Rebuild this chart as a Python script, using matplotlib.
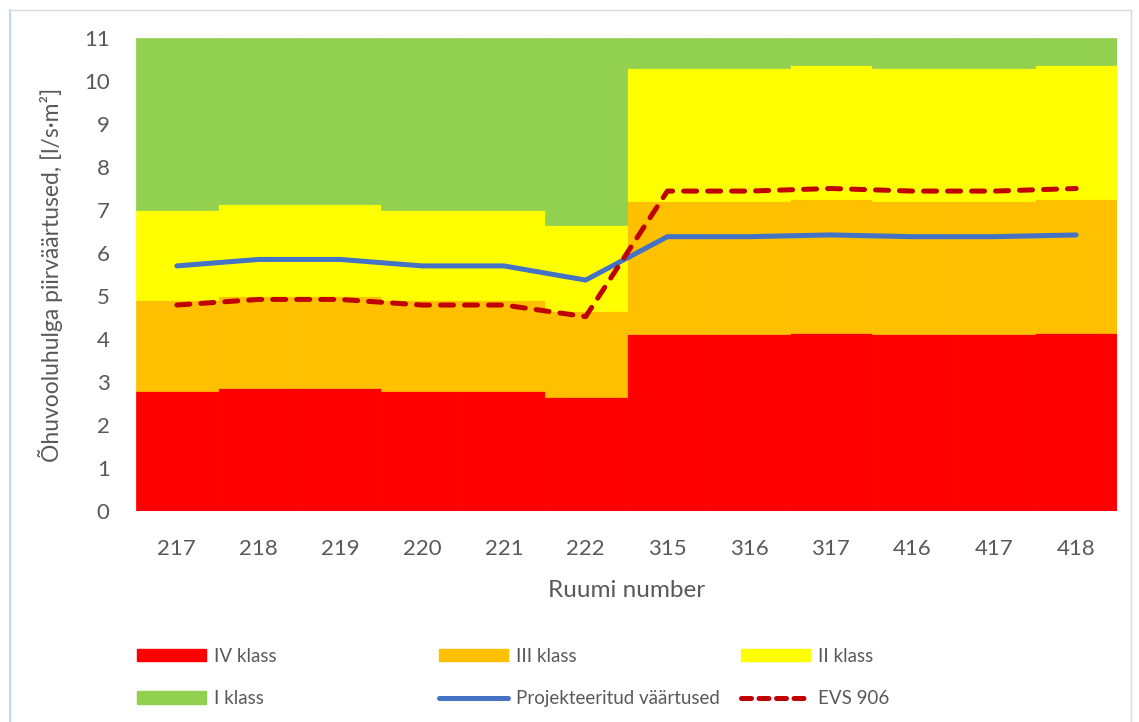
import numpy as np
import matplotlib.pyplot as plt
from matplotlib.patches import Patch, Rectangle
from matplotlib.lines import Line2D

plt.rcParams['font.family'] = ['Lato', 'DejaVu Sans']

rooms = ['217', '218', '219', '220', '221', '222', '315', '316', '317', '416', '417', '418']
# upper limits of each indoor climate class, l/s per m2
limit_iv = [2.80, 2.86, 2.86, 2.80, 2.80, 2.66, 4.12, 4.12, 4.15, 4.12, 4.12, 4.15]
limit_iii = [4.90, 5.00, 5.00, 4.90, 4.90, 4.65, 7.22, 7.22, 7.26, 7.22, 7.22, 7.26]
limit_ii = [7.00, 7.15, 7.15, 7.00, 7.00, 6.65, 10.31, 10.31, 10.37, 10.31, 10.31, 10.37]
limit_i = [11] * 12
designed = [5.70, 5.85, 5.85, 5.70, 5.70, 5.37, 6.38, 6.38, 6.42, 6.38, 6.38, 6.42]
evs906 = [4.79, 4.92, 4.92, 4.79, 4.79, 4.52, 7.44, 7.44, 7.50, 7.44, 7.44, 7.50]

text_col = '#595959'
c_iv, c_iii, c_ii, c_i = '#FF0000', '#FFC000', '#FFFF00', '#92D050'
c_blue, c_dred = '#4472C4', '#C00000'

fig = plt.figure(figsize=(11.39, 7.22), dpi=100)
ax = fig.add_axes([136 / 1139, 1 - 511 / 722, 981 / 1139, 473 / 722])

x = np.arange(len(rooms))
iv = np.array(limit_iv)
iii = np.array(limit_iii)
ii = np.array(limit_ii)
i1 = np.array(limit_i)

ax.bar(x, iv, width=1, color=c_iv, edgecolor=c_iv, linewidth=0.5)
ax.bar(x, iii - iv, bottom=iv, width=1, color=c_iii, edgecolor=c_iii, linewidth=0.5)
ax.bar(x, ii - iii, bottom=iii, width=1, color=c_ii, edgecolor=c_ii, linewidth=0.5)
ax.bar(x, i1 - ii, bottom=ii, width=1, color=c_i, edgecolor=c_i, linewidth=0.5)

ax.plot(x, designed, color=c_blue, lw=3.6, solid_capstyle='round', solid_joinstyle='round')
ax.plot(x, evs906, color=c_dred, lw=3.6, dashes=(2.6, 2.2), dash_capstyle='round',
        dash_joinstyle='round')

ax.set_xlim(-0.5, len(rooms) - 0.5)
ax.set_ylim(0, 11)
ax.set_yticks(range(0, 12))
ax.set_xticks(x)
ax.set_xticklabels(rooms)
for s in ax.spines.values():
    s.set_visible(False)
ax.tick_params(axis='both', length=0, labelsize=16, labelcolor=text_col)
ax.tick_params(axis='y', pad=19)
ax.tick_params(axis='x', pad=20)
ax.set_xlabel('Ruumi number', fontsize=17.5, color=text_col, labelpad=15)
ax.set_ylabel('Õhuvooluhulga piirväärtused, [l/s·m²]', fontsize=16.5, color=text_col,
              labelpad=15)

# legend: three columns of two rows
cols = [
    ([Patch(color=c_iv), Patch(color=c_i)], ['IV klass', 'I klass'], 137),
    ([Patch(color=c_iii), Line2D([], [], color=c_blue, lw=3.6, solid_capstyle='round')],
     ['III klass', 'Projekteeritud väärtused'], 439),
    ([Patch(color=c_ii), Line2D([], [], color=c_dred, lw=3.6, dashes=(2.0, 1.5),
                                dash_capstyle='round')], ['II klass', 'EVS 906'], 741),
]
for handles, labels, xpx in cols:
    fig.legend(handles, labels, loc='center left', bbox_to_anchor=(xpx / 1139, 1 - 677.5 / 722),
               frameon=False, fontsize=13.5, labelcolor=text_col, handlelength=3.7,
               handleheight=0.64, handletextpad=0.4, labelspacing=1.35,
               borderpad=0, borderaxespad=0)

# chart border
fig.add_artist(Rectangle((10 / 1139, -0.01), 1121 / 1139, 1 - 10 / 722 + 0.01,
                         transform=fig.transFigure, fill=False, edgecolor='#D9D9D9', lw=1))
fig.add_artist(Line2D([10 / 1139, 10 / 1139], [0, 1 - 10 / 722], transform=fig.transFigure,
                      color='#BDD7EE', lw=1.2))

fig.savefig('out.png', dpi=100)
